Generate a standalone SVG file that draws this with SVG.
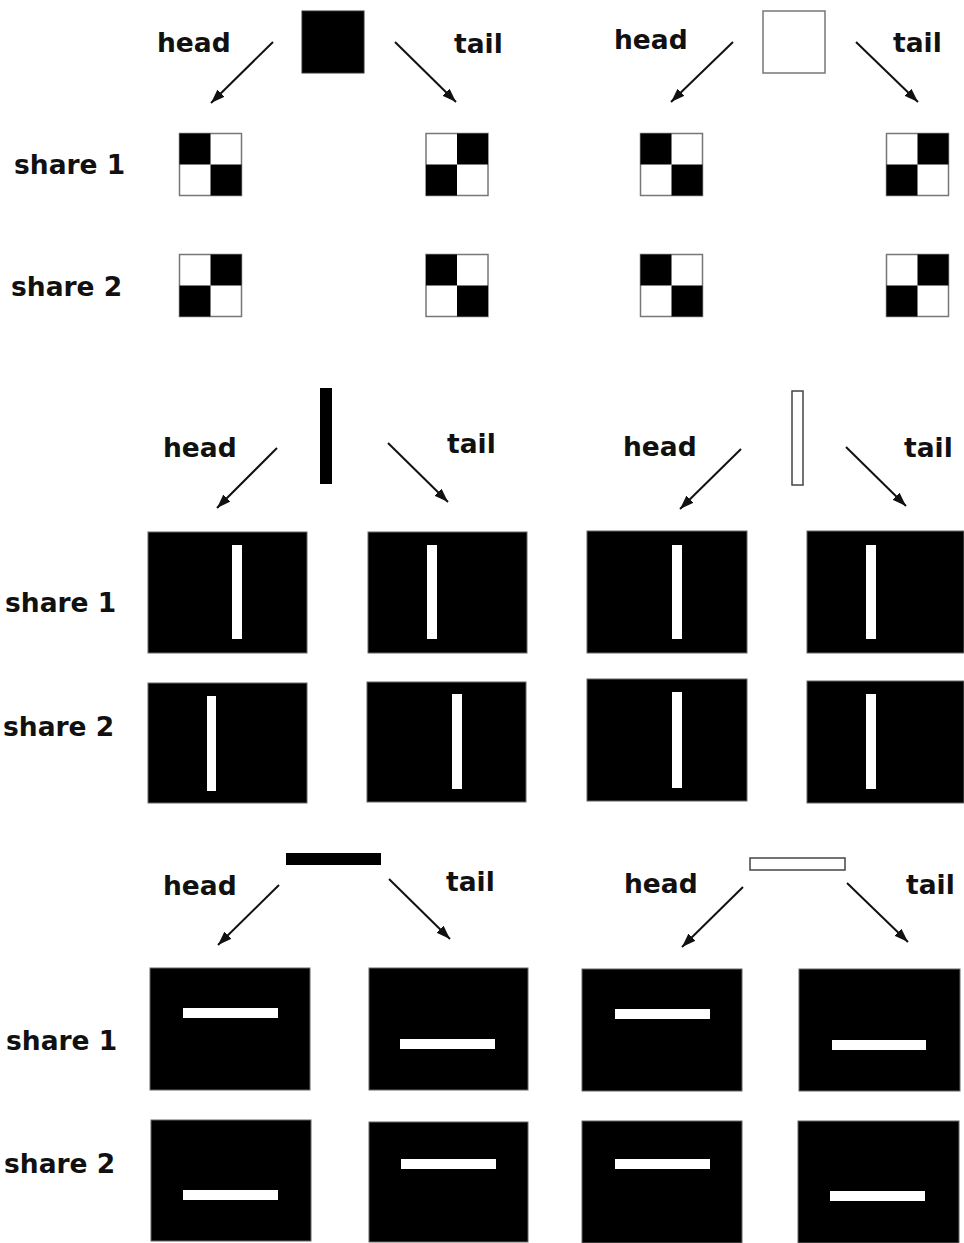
<svg xmlns="http://www.w3.org/2000/svg" width="964" height="1243" viewBox="0 0 964 1243">
<defs>
<marker id="ah" markerUnits="userSpaceOnUse" markerWidth="16" markerHeight="12" refX="14" refY="5" orient="auto">
<path d="M0,0 L14,5 L0,10 z" fill="#111"/>
</marker>
<style>
.lbl{font-family:"DejaVu Sans","Liberation Sans",sans-serif;font-weight:bold;font-size:26.5px;fill:#111}
.arr{stroke:#111;stroke-width:2;fill:none;marker-end:url(#ah)}
.blk{fill:#000}
.cell{fill:#fff;stroke:#777;stroke-width:1.5}
.pnl{fill:#000;stroke:#666;stroke-width:1}
.bar{fill:#fff}
.obar{fill:#fff;stroke:#444;stroke-width:1.5}
</style>
</defs>
<rect width="964" height="1243" fill="#fff"/>

<g id="labels">
<text class="lbl" x="157" y="52">head</text>
<text class="lbl" x="454" y="53">tail</text>
<text class="lbl" x="614" y="49">head</text>
<text class="lbl" x="893" y="52">tail</text>
<text class="lbl" x="14" y="174">share 1</text>
<text class="lbl" x="11" y="296">share 2</text>
<text class="lbl" x="163" y="457">head</text>
<text class="lbl" x="447" y="453">tail</text>
<text class="lbl" x="623" y="456">head</text>
<text class="lbl" x="904" y="457">tail</text>
<text class="lbl" x="5" y="612">share 1</text>
<text class="lbl" x="3" y="736">share 2</text>
<text class="lbl" x="163" y="895">head</text>
<text class="lbl" x="446" y="891">tail</text>
<text class="lbl" x="624" y="893">head</text>
<text class="lbl" x="906" y="894">tail</text>
<text class="lbl" x="6" y="1050">share 1</text>
<text class="lbl" x="4" y="1173">share 2</text>
</g>

<g id="connectors">
<line class="arr" x1="273" y1="42" x2="211" y2="103"/>
<line class="arr" x1="395" y1="42" x2="456" y2="102"/>
<line class="arr" x1="733" y1="42" x2="671" y2="102"/>
<line class="arr" x1="856" y1="42" x2="918" y2="102"/>
<line class="arr" x1="277" y1="448" x2="217" y2="508"/>
<line class="arr" x1="388" y1="443" x2="448" y2="502"/>
<line class="arr" x1="741" y1="449" x2="680" y2="509"/>
<line class="arr" x1="846" y1="447" x2="906" y2="506"/>
<line class="arr" x1="279" y1="885" x2="218" y2="945"/>
<line class="arr" x1="389" y1="879" x2="450" y2="939"/>
<line class="arr" x1="743" y1="887" x2="682" y2="947"/>
<line class="arr" x1="847" y1="883" x2="908" y2="942"/>
</g>

<!-- Section 1: squares -->
<g id="src-black-square"><rect x="302" y="11" width="62" height="62" fill="#000" stroke="#333" stroke-width="1"/></g>
<g id="src-white-square"><rect x="763" y="11" width="62" height="62" fill="#fff" stroke="#777" stroke-width="1.5"/></g>

<g id="s1-c1">
<rect class="cell" x="179.5" y="133.5" width="62" height="62"/>
<rect class="blk" x="179.5" y="133.5" width="31" height="31"/>
<rect class="blk" x="210.5" y="164.5" width="31" height="31"/>
</g>
<g id="s1-c2">
<rect class="cell" x="426" y="133.5" width="62" height="62"/>
<rect class="blk" x="457" y="133.5" width="31" height="31"/>
<rect class="blk" x="426" y="164.5" width="31" height="31"/>
</g>
<g id="s1-c3">
<rect class="cell" x="640.5" y="133.5" width="62" height="62"/>
<rect class="blk" x="640.5" y="133.5" width="31" height="31"/>
<rect class="blk" x="671.5" y="164.5" width="31" height="31"/>
</g>
<g id="s1-c4">
<rect class="cell" x="886.5" y="133.5" width="62" height="62"/>
<rect class="blk" x="917.5" y="133.5" width="31" height="31"/>
<rect class="blk" x="886.5" y="164.5" width="31" height="31"/>
</g>
<g id="s2-c1">
<rect class="cell" x="179.5" y="254.5" width="62" height="62"/>
<rect class="blk" x="210.5" y="254.5" width="31" height="31"/>
<rect class="blk" x="179.5" y="285.5" width="31" height="31"/>
</g>
<g id="s2-c2">
<rect class="cell" x="426" y="254.5" width="62" height="62"/>
<rect class="blk" x="426" y="254.5" width="31" height="31"/>
<rect class="blk" x="457" y="285.5" width="31" height="31"/>
</g>
<g id="s2-c3">
<rect class="cell" x="640.5" y="254.5" width="62" height="62"/>
<rect class="blk" x="640.5" y="254.5" width="31" height="31"/>
<rect class="blk" x="671.5" y="285.5" width="31" height="31"/>
</g>
<g id="s2-c4">
<rect class="cell" x="886.5" y="254.5" width="62" height="62"/>
<rect class="blk" x="917.5" y="254.5" width="31" height="31"/>
<rect class="blk" x="886.5" y="285.5" width="31" height="31"/>
</g>

<!-- Section 2: vertical bars -->
<g id="src-black-vbar"><rect x="320" y="388" width="12" height="96" fill="#000"/></g>
<g id="src-white-vbar"><rect class="obar" x="792" y="391" width="11" height="94"/></g>

<g id="v-s1-c1"><rect class="pnl" x="148" y="532" width="159" height="121"/><rect class="bar" x="232" y="545" width="10" height="94"/></g>
<g id="v-s1-c2"><rect class="pnl" x="368" y="532" width="159" height="121"/><rect class="bar" x="427" y="545" width="10" height="94"/></g>
<g id="v-s1-c3"><rect class="pnl" x="587" y="531" width="160" height="122"/><rect class="bar" x="672" y="545" width="10" height="94"/></g>
<g id="v-s1-c4"><rect class="pnl" x="807" y="531" width="157" height="122"/><rect class="bar" x="866" y="545" width="10" height="94"/></g>
<g id="v-s2-c1"><rect class="pnl" x="148" y="683" width="159" height="120"/><rect class="bar" x="207" y="696" width="9" height="95"/></g>
<g id="v-s2-c2"><rect class="pnl" x="367" y="682" width="159" height="120"/><rect class="bar" x="452" y="694" width="10" height="95"/></g>
<g id="v-s2-c3"><rect class="pnl" x="587" y="679" width="160" height="122"/><rect class="bar" x="672" y="692" width="10" height="96"/></g>
<g id="v-s2-c4"><rect class="pnl" x="807" y="681" width="157" height="122"/><rect class="bar" x="866" y="694" width="10" height="95"/></g>

<!-- Section 3: horizontal bars -->
<g id="src-black-hbar"><rect x="286" y="853" width="95" height="12" fill="#000"/></g>
<g id="src-white-hbar"><rect class="obar" x="750" y="858" width="95" height="12"/></g>

<g id="h-s1-c1"><rect class="pnl" x="150" y="968" width="160" height="122"/><rect class="bar" x="183" y="1008" width="95" height="10"/></g>
<g id="h-s1-c2"><rect class="pnl" x="369" y="968" width="159" height="122"/><rect class="bar" x="400" y="1039" width="95" height="10"/></g>
<g id="h-s1-c3"><rect class="pnl" x="582" y="969" width="160" height="122"/><rect class="bar" x="615" y="1009" width="95" height="10"/></g>
<g id="h-s1-c4"><rect class="pnl" x="799" y="969" width="161" height="122"/><rect class="bar" x="832" y="1040" width="94" height="10"/></g>
<g id="h-s2-c1"><rect class="pnl" x="151" y="1120" width="160" height="121"/><rect class="bar" x="183" y="1190" width="95" height="10"/></g>
<g id="h-s2-c2"><rect class="pnl" x="369" y="1122" width="159" height="120"/><rect class="bar" x="401" y="1159" width="95" height="10"/></g>
<g id="h-s2-c3"><rect class="pnl" x="582" y="1121" width="160" height="122"/><rect class="bar" x="615" y="1159" width="95" height="10"/></g>
<g id="h-s2-c4"><rect class="pnl" x="798" y="1121" width="161" height="122"/><rect class="bar" x="830" y="1191" width="95" height="10"/></g>
</svg>
